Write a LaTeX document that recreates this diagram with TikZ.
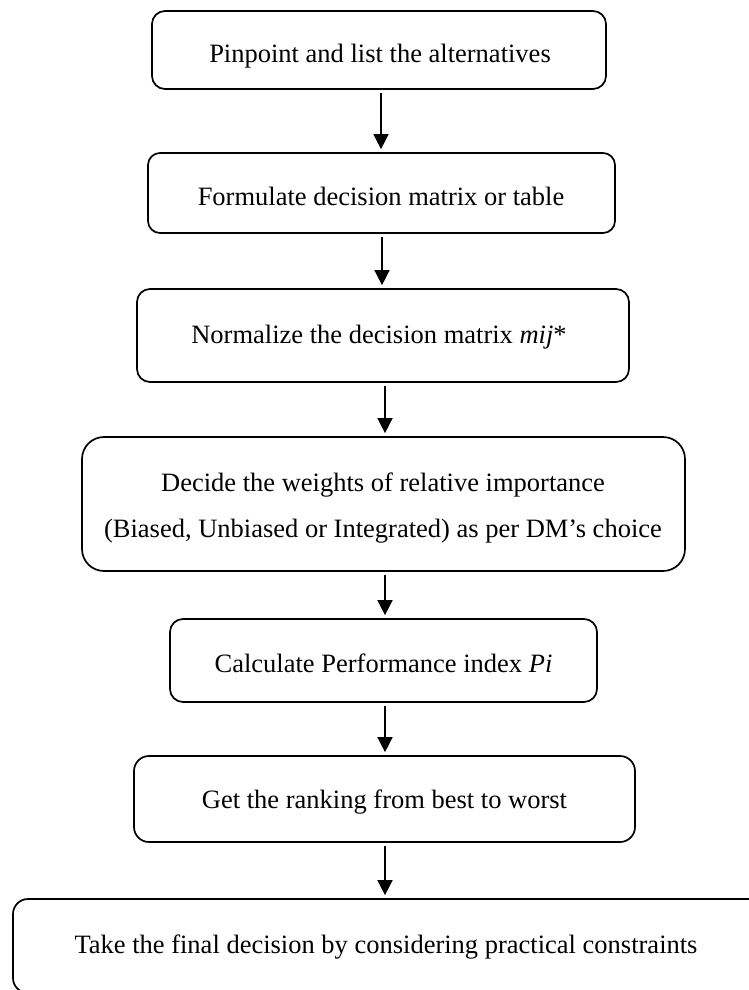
\documentclass[tikz,border=0pt]{standalone}
\usepackage{fontspec}
\setmainfont{Liberation Serif}
\usetikzlibrary{arrows.meta}
\tikzset{
  box/.style={draw=black, line width=1.7pt, fill=none, inner sep=0pt, minimum width=#1},
  txt/.style={anchor=base, inner sep=0pt, font=\fontsize{26.5}{32}\selectfont},
  arr/.style={line width=1.5pt, -{Triangle[length=15pt,width=15pt]}, shorten <=3pt, shorten >=3pt}
}
\begin{document}
\begin{tikzpicture}[x=1pt,y=-1pt]
\useasboundingbox (0,0) rectangle (749,990);
\clip (0,0) rectangle (749,990);
% boxes
\node[box=454pt, minimum height=78pt, rounded corners=13pt] (b1) at (379,50) {};
\node[box=467pt, minimum height=80pt, rounded corners=12pt] (b2) at (381.5,193) {};
\node[box=492pt, minimum height=93pt, rounded corners=13pt] (b3) at (383,335.5) {};
\node[box=603pt, minimum height=134pt, rounded corners=22pt] (b4) at (383.5,504) {};
\node[box=427pt, minimum height=83pt, rounded corners=13pt] (b5) at (383.5,660.5) {};
\node[box=501pt, minimum height=86pt, rounded corners=15pt] (b6) at (384.5,799) {};
\node[box=757pt, minimum height=94pt, rounded corners=15pt] (b7) at (391.5,946) {};
% texts
\node[txt] (t1) at (380,63) {Pinpoint and list the alternatives};
\node[txt] (t2) at (381,205) {Formulate decision matrix or table};
\node[txt] (t3) at (379,343) {Normalize the decision matrix \textit{mij}*};
\node[txt] (t4a) at (383,491) {Decide the weights of relative importance};
\node[txt] (t4b) at (383,537) {(Biased, Unbiased or Integrated) as per DM’s choice};
\node[txt] (t5) at (383.5,672) {Calculate Performance index \textit{Pi}};
\node[txt] (t6) at (384.5,808) {Get the ranking from best to worst};
\node[txt] (t7) at (386,953) {Take the final decision by considering practical constraints};
% arrow columns
\coordinate (x1) at (381,0);
\coordinate (x2) at (382,0);
\coordinate (x3) at (385,0);
% connectors
\draw[arr] (b1.south -| x1) -- (b2.north -| x1);
\draw[arr] (b2.south -| x2) -- (b3.north -| x2);
\draw[arr] (b3.south -| x3) -- (b4.north -| x3);
\draw[arr] (b4.south -| x3) -- (b5.north -| x3);
\draw[arr] (b5.south -| x3) -- (b6.north -| x3);
\draw[arr] (b6.south -| x3) -- (b7.north -| x3);
\end{tikzpicture}
\end{document}
